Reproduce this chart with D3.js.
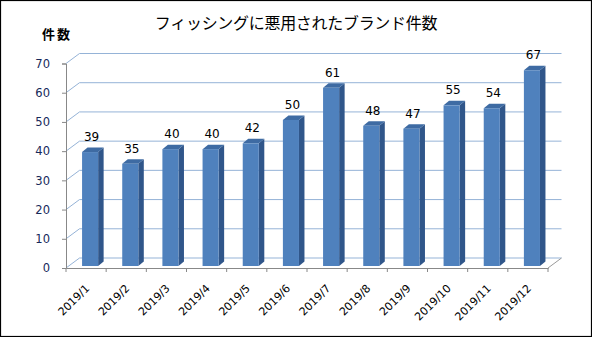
<!DOCTYPE html>
<html><head><meta charset="utf-8">
<script src="https://cdn.jsdelivr.net/npm/d3@7"></script>
<style>html,body{margin:0;padding:0;background:#fff}svg{display:block}</style>
</head><body>
<svg id="c" width="592" height="337"></svg>
<script>
const categories = ["2019/1","2019/2","2019/3","2019/4","2019/5","2019/6","2019/7","2019/8","2019/9","2019/10","2019/11","2019/12"];
const values = [39,35,40,40,42,50,61,48,47,55,54,67];
const yTicks = [0,10,20,30,40,50,60,70];
const titleText = "フィッシングに悪用されたブランド件数";
const yAxisTitle = "件数";

const svg = d3.select("#c");
svg.append("rect").attr("x",0.5).attr("y",0.5).attr("width",591).attr("height",336)
  .attr("fill","#fff").attr("stroke","#000").attr("stroke-width",1.2);

const x = d3.scaleBand().domain(categories).range([66,548]).padding(0);
const y = d3.scaleLinear().domain([0,70]).range([268,63.5]);
const DX = 13.5, DY = -10;
const bw = x.bandwidth();
const numFont = "DejaVu Sans, Verdana, sans-serif";

// back wall gridlines + left diagonals
const grid = svg.append("g");
yTicks.forEach(t => {
  const yy = y(t);
  grid.append("line").attr("x1",66+DX).attr("x2",548+DX).attr("y1",yy+DY).attr("y2",yy+DY)
    .attr("stroke","#95B3D7").attr("stroke-width",1);
  grid.append("line").attr("x1",66).attr("x2",66+DX).attr("y1",yy).attr("y2",yy+DY)
    .attr("stroke","#95B3D7").attr("stroke-width",1);
});
// floor right edge
svg.append("line").attr("x1",548).attr("y1",y(0)).attr("x2",548+DX).attr("y2",y(0)+DY)
  .attr("stroke","#9a9a9a").attr("stroke-width",1);

// bars
const d0y = -2, sx = 5.5, sy = -4.5;
const bars = svg.append("g");
categories.forEach((c,i) => {
  const v = values[i];
  const xl = x(c) + bw*0.4;
  const w = bw*0.4;
  const yt = y(v) + d0y;
  const yb = y(0) + d0y;
  bars.append("path").attr("d",`M${xl+w},${yb} L${xl+w+sx},${yb+sy} L${xl+w+sx},${yt+sy} L${xl+w},${yt} Z`)
    .attr("fill","#30568A");
  bars.append("path").attr("d",`M${xl},${yt} L${xl+sx},${yt+sy} L${xl+w+sx},${yt+sy} L${xl+w},${yt} Z`)
    .attr("fill","#3E6BA3");
  bars.append("rect").attr("x",xl).attr("y",yt).attr("width",w).attr("height",yb-yt)
    .attr("fill","#4F81BD");
  svg.append("text").attr("x",xl+w/2+1.5).attr("y",y(v)-13).attr("text-anchor","middle")
    .attr("font-family",numFont).attr("font-size",12)
    .attr("fill","#000").text(v);
});

// axes
const yAxis = d3.axisLeft(y).tickValues(yTicks).tickSize(4).tickPadding(12);
const gy = svg.append("g").attr("transform","translate(66,0)").call(yAxis);
gy.select(".domain").attr("stroke","#888");
gy.selectAll(".tick line").attr("stroke","#888");
gy.selectAll("text").attr("font-family",numFont).attr("font-size",11.5).attr("fill","#16295a");

const xAxis = d3.axisBottom(x).tickSize(0).tickPadding(0);
const gx = svg.append("g").attr("transform",`translate(0,${y(0)})`).call(xAxis);
gx.select(".domain").attr("stroke","#888");
gx.selectAll(".tick text")
  .attr("text-anchor","end")
  .attr("font-family",numFont).attr("font-size",11)
  .attr("fill","#000")
  .attr("y",0).attr("dy",0)
  .attr("transform","translate(4,21) rotate(-45)");
categories.concat([null]).forEach((c) => {
  const xx = c===null ? 548 : x(c);
  svg.append("line").attr("x1",xx).attr("x2",xx).attr("y1",y(0)).attr("y2",y(0)+4).attr("stroke","#888");
});

svg.append("text").attr("x",296).attr("y",29).attr("text-anchor","middle")
  .attr("font-family","Noto Sans CJK JP").attr("font-size",16).attr("letter-spacing",-0.3)
  .attr("fill","#000").text(titleText);
svg.append("text").attr("x",42).attr("y",39)
  .attr("font-family","Noto Sans CJK JP").attr("font-size",13).attr("font-weight","bold")
  .attr("letter-spacing",2).attr("fill","#000").text(yAxisTitle);
</script>
</body></html>
